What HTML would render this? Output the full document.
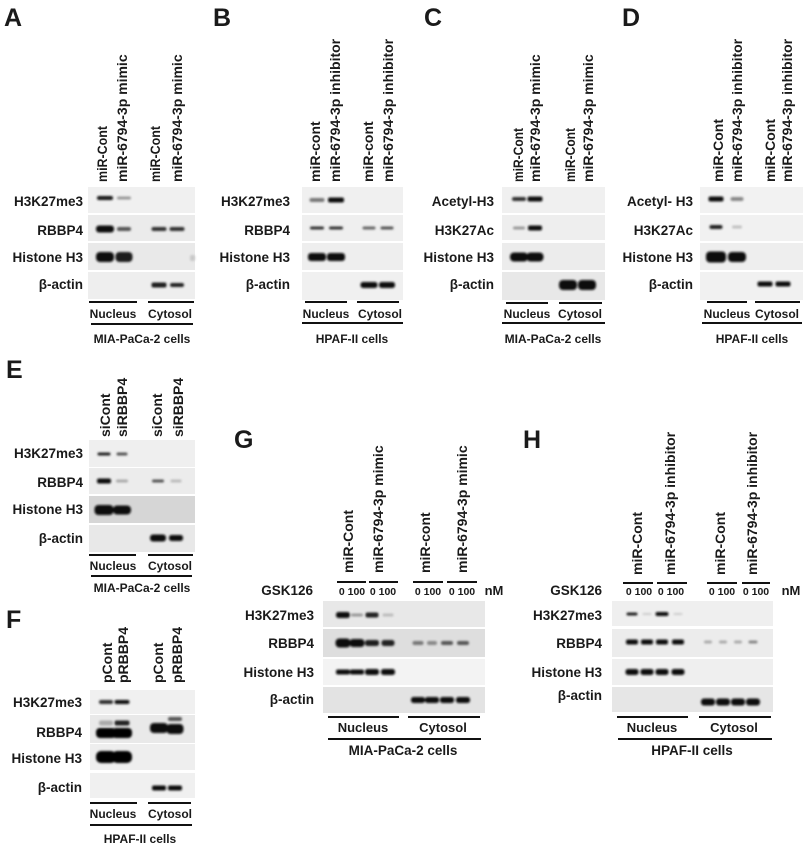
<!DOCTYPE html>
<html><head><meta charset="utf-8"><style>
html,body{margin:0;padding:0;background:#fff;}
svg{display:block;}
.t{font-family:"Liberation Sans",Arial,sans-serif;font-weight:bold;fill:#1a1a1a;}
.lt{font-size:25px;}
.rl{font-size:13.5px;text-anchor:end;}
.cl{font-size:14px;}
.sm{font-size:12px;text-anchor:middle;}
.md{font-size:13px;text-anchor:middle;}
.cg{font-size:13.5px;text-anchor:middle;}
.nm{font-size:10.5px;text-anchor:middle;}
</style></head><body>
<svg width="808" height="850" viewBox="0 0 808 850" xmlns="http://www.w3.org/2000/svg">
<defs>
<filter id="b" x="-50%" y="-100%" width="200%" height="300%"><feGaussianBlur stdDeviation="1.1"/></filter>
</defs>
<rect width="808" height="850" fill="#fff"/>

<!-- ===== Panel letters ===== -->
<text class="t lt" x="4" y="26">A</text>
<text class="t lt" x="213" y="26">B</text>
<text class="t lt" x="424" y="26">C</text>
<text class="t lt" x="622" y="26">D</text>
<text class="t lt" x="6" y="378">E</text>
<text class="t lt" x="6" y="628">F</text>
<text class="t lt" x="234" y="448">G</text>
<text class="t lt" x="523" y="448">H</text>

<!-- ===== Panel A ===== -->
<rect x="88" y="187" width="107" height="26" fill="#f0f0f0"/>
<rect x="88" y="215" width="107" height="26" fill="#ebebeb"/>
<rect x="88" y="243" width="107" height="27" fill="#e9e9e9"/>
<rect x="88" y="272" width="107" height="27" fill="#eeeeee"/>
<text class="t cl" transform="translate(107,182) rotate(-90)" textLength="56" lengthAdjust="spacingAndGlyphs">miR-Cont</text>
<text class="t cl" transform="translate(127,182) rotate(-90)">miR-6794-3p mimic</text>
<text class="t cl" transform="translate(160,182) rotate(-90)" textLength="56" lengthAdjust="spacingAndGlyphs">miR-Cont</text>
<text class="t cl" transform="translate(182,182) rotate(-90)">miR-6794-3p mimic</text>
<text class="t rl" x="83" y="206">H3K27me3</text>
<text class="t rl" x="83" y="235">RBBP4</text>
<text class="t rl" x="83" y="262">Histone H3</text>
<text class="t rl" x="83" y="289">β-actin</text>
<g filter="url(#b)">
<rect x="97" y="196" width="16" height="4" rx="2" fill="#151515"/>
<rect x="117" y="196.5" width="14" height="3" rx="1.5" fill="#9a9a9a"/>
<rect x="96" y="225.5" width="18" height="7" rx="3" fill="#111"/>
<rect x="117" y="227" width="14" height="4" rx="2" fill="#555"/>
<rect x="151.5" y="227" width="15" height="4" rx="2" fill="#333"/>
<rect x="169.5" y="227" width="15" height="4" rx="2" fill="#333"/>
<rect x="96" y="252" width="18" height="10" rx="4" fill="#111"/>
<rect x="115.5" y="252" width="17" height="10" rx="4" fill="#1a1a1a"/>
<rect x="190" y="255" width="5" height="6" rx="2" fill="#c8c8c8"/>
<rect x="151.5" y="282.5" width="15" height="5" rx="2" fill="#1a1a1a"/>
<rect x="170" y="283" width="14" height="4" rx="2" fill="#222"/>
</g>
<rect x="89" y="301" width="48" height="2" fill="#111"/>
<rect x="148" y="301" width="46" height="2" fill="#111"/>
<text class="t sm" x="113" y="318">Nucleus</text>
<text class="t sm" x="170" y="318">Cytosol</text>
<rect x="91" y="323" width="102" height="2" fill="#111"/>
<text class="t sm" x="142" y="343">MIA-PaCa-2 cells</text>

<!-- ===== Panel B ===== -->
<rect x="302" y="187" width="101" height="26" fill="#f0f0f0"/>
<rect x="302" y="215" width="101" height="26" fill="#efefef"/>
<rect x="302" y="243" width="101" height="27" fill="#eeeeee"/>
<rect x="302" y="272" width="101" height="28" fill="#f0f0f0"/>
<text class="t cl" transform="translate(320,182) rotate(-90)">miR-cont</text>
<text class="t cl" transform="translate(340,182) rotate(-90)">miR-6794-3p inhibitor</text>
<text class="t cl" transform="translate(373,182) rotate(-90)">miR-cont</text>
<text class="t cl" transform="translate(393,182) rotate(-90)">miR-6794-3p inhibitor</text>
<text class="t rl" x="290" y="206">H3K27me3</text>
<text class="t rl" x="290" y="235">RBBP4</text>
<text class="t rl" x="290" y="262">Histone H3</text>
<text class="t rl" x="290" y="289">β-actin</text>
<g filter="url(#b)">
<rect x="309.5" y="198" width="15" height="4" rx="2" fill="#777"/>
<rect x="328" y="197.5" width="16" height="5" rx="2" fill="#111"/>
<rect x="310" y="226.5" width="14" height="3" rx="1.5" fill="#333"/>
<rect x="329" y="226.5" width="14" height="3" rx="1.5" fill="#333"/>
<rect x="362.5" y="226.5" width="13" height="3" rx="1.5" fill="#666"/>
<rect x="380.5" y="226.5" width="13" height="3" rx="1.5" fill="#555"/>
<rect x="308" y="253" width="18" height="8" rx="3" fill="#111"/>
<rect x="327" y="253" width="18" height="8" rx="3" fill="#111"/>
<rect x="360.5" y="282" width="17" height="6" rx="2.5" fill="#111"/>
<rect x="379" y="282" width="16" height="6" rx="2.5" fill="#111"/>
</g>
<rect x="305" y="301" width="42" height="2" fill="#111"/>
<rect x="357" y="301" width="42" height="2" fill="#111"/>
<text class="t sm" x="326" y="318">Nucleus</text>
<text class="t sm" x="380" y="318">Cytosol</text>
<rect x="302" y="322" width="101" height="2" fill="#111"/>
<text class="t sm" x="352" y="343">HPAF-II cells</text>

<!-- ===== Panel C ===== -->
<rect x="502" y="187" width="103" height="26" fill="#f0f0f0"/>
<rect x="502" y="215" width="103" height="25" fill="#eeeeee"/>
<rect x="502" y="243" width="103" height="27" fill="#ececec"/>
<rect x="502" y="272" width="103" height="28" fill="#e8e8e8"/>
<text class="t cl" transform="translate(523,182) rotate(-90)" textLength="54" lengthAdjust="spacingAndGlyphs">miR-Cont</text>
<text class="t cl" transform="translate(540,182) rotate(-90)">miR-6794-3p mimic</text>
<text class="t cl" transform="translate(575,182) rotate(-90)" textLength="54" lengthAdjust="spacingAndGlyphs">miR-Cont</text>
<text class="t cl" transform="translate(593,182) rotate(-90)">miR-6794-3p mimic</text>
<text class="t rl" x="494" y="206">Acetyl-H3</text>
<text class="t rl" x="494" y="235">H3K27Ac</text>
<text class="t rl" x="494" y="262">Histone H3</text>
<text class="t rl" x="494" y="289">β-actin</text>
<g filter="url(#b)">
<rect x="512" y="197" width="14" height="4" rx="2" fill="#333"/>
<rect x="527.5" y="196.5" width="15" height="5" rx="2" fill="#111"/>
<rect x="513" y="226.5" width="12" height="3" rx="1.5" fill="#999"/>
<rect x="528" y="225.5" width="14" height="5" rx="2" fill="#111"/>
<rect x="510" y="252.5" width="18" height="9" rx="4" fill="#111"/>
<rect x="526.5" y="252.5" width="17" height="9" rx="4" fill="#111"/>
<rect x="559" y="280" width="18" height="10" rx="4" fill="#0a0a0a"/>
<rect x="578" y="280" width="18" height="10" rx="4" fill="#0a0a0a"/>
</g>
<rect x="506" y="302" width="42" height="2" fill="#111"/>
<rect x="559" y="302" width="43" height="2" fill="#111"/>
<text class="t sm" x="527" y="318">Nucleus</text>
<text class="t sm" x="580" y="318">Cytosol</text>
<rect x="502" y="322" width="103" height="2" fill="#111"/>
<text class="t sm" x="553" y="343">MIA-PaCa-2 cells</text>

<!-- ===== Panel D ===== -->
<rect x="700" y="187" width="103" height="26" fill="#f2f2f2"/>
<rect x="700" y="215" width="103" height="26" fill="#f1f1f1"/>
<rect x="700" y="243" width="103" height="27" fill="#eeeeee"/>
<rect x="700" y="272" width="103" height="28" fill="#f1f1f1"/>
<text class="t cl" transform="translate(723,182) rotate(-90)">miR-Cont</text>
<text class="t cl" transform="translate(742,182) rotate(-90)">miR-6794-3p inhibitor</text>
<text class="t cl" transform="translate(775,182) rotate(-90)">miR-Cont</text>
<text class="t cl" transform="translate(792,182) rotate(-90)">miR-6794-3p inhibitor</text>
<text class="t rl" x="693" y="206">Acetyl- H3</text>
<text class="t rl" x="693" y="235">H3K27Ac</text>
<text class="t rl" x="693" y="262">Histone H3</text>
<text class="t rl" x="693" y="289">β-actin</text>
<g filter="url(#b)">
<rect x="708.5" y="196.5" width="15" height="5" rx="2" fill="#111"/>
<rect x="730.5" y="197" width="13" height="4" rx="2" fill="#888"/>
<rect x="709.5" y="225" width="13" height="4" rx="2" fill="#222"/>
<rect x="732" y="225.5" width="10" height="3" rx="1.5" fill="#c0c0c0"/>
<rect x="706" y="251.5" width="20" height="11" rx="4" fill="#0a0a0a"/>
<rect x="728" y="252" width="18" height="10" rx="4" fill="#111"/>
<rect x="757.5" y="281.5" width="15" height="5" rx="2" fill="#111"/>
<rect x="775.5" y="281.5" width="15" height="5" rx="2" fill="#111"/>
</g>
<rect x="707" y="301" width="40" height="2" fill="#111"/>
<rect x="755" y="301" width="45" height="2" fill="#111"/>
<text class="t sm" x="727" y="318">Nucleus</text>
<text class="t sm" x="777" y="318">Cytosol</text>
<rect x="702" y="322" width="100" height="2" fill="#111"/>
<text class="t sm" x="752" y="343">HPAF-II cells</text>

<!-- ===== Panel E ===== -->
<rect x="89" y="440" width="106" height="27" fill="#efefef"/>
<rect x="89" y="468" width="106" height="26" fill="#ececec"/>
<rect x="89" y="496" width="106" height="27" fill="#d6d6d6"/>
<rect x="89" y="525" width="106" height="27" fill="#e8e8e8"/>
<text class="t cl" transform="translate(110,437) rotate(-90)">siCont</text>
<text class="t cl" transform="translate(127,437) rotate(-90)">siRBBP4</text>
<text class="t cl" transform="translate(162,437) rotate(-90)">siCont</text>
<text class="t cl" transform="translate(183,437) rotate(-90)">siRBBP4</text>
<text class="t rl" x="83" y="458">H3K27me3</text>
<text class="t rl" x="83" y="487">RBBP4</text>
<text class="t rl" x="83" y="514">Histone H3</text>
<text class="t rl" x="83" y="543">β-actin</text>
<g filter="url(#b)">
<rect x="97.5" y="452.5" width="13" height="3" rx="1.5" fill="#222"/>
<rect x="116.5" y="452.5" width="11" height="3" rx="1.5" fill="#555"/>
<rect x="97" y="478.5" width="14" height="5" rx="2" fill="#111"/>
<rect x="116" y="479.5" width="12" height="3" rx="1.5" fill="#aaa"/>
<rect x="152" y="479.5" width="12" height="3" rx="1.5" fill="#555"/>
<rect x="170.5" y="479.5" width="11" height="3" rx="1.5" fill="#bbb"/>
<rect x="94.5" y="505" width="19" height="10" rx="4" fill="#0a0a0a"/>
<rect x="113" y="505.5" width="18" height="9" rx="4" fill="#111"/>
<rect x="150" y="534.5" width="16" height="7" rx="3" fill="#111"/>
<rect x="169" y="535" width="14" height="6" rx="2.5" fill="#111"/>
</g>
<rect x="89" y="554" width="47" height="2" fill="#111"/>
<rect x="148" y="554" width="45" height="2" fill="#111"/>
<text class="t sm" x="113" y="570">Nucleus</text>
<text class="t sm" x="170" y="570">Cytosol</text>
<rect x="91" y="575" width="101" height="2" fill="#111"/>
<text class="t sm" x="142" y="592">MIA-PaCa-2 cells</text>

<!-- ===== Panel F ===== -->
<rect x="90" y="690" width="105" height="24" fill="#f0f0f0"/>
<rect x="90" y="715" width="105" height="28" fill="#e9e9e9"/>
<rect x="90" y="744" width="105" height="26" fill="#eeeeee"/>
<rect x="90" y="773" width="105" height="25" fill="#f0f0f0"/>
<text class="t cl" transform="translate(112,683) rotate(-90)">pCont</text>
<text class="t cl" transform="translate(128,683) rotate(-90)">pRBBP4</text>
<text class="t cl" transform="translate(163,683) rotate(-90)">pCont</text>
<text class="t cl" transform="translate(182,683) rotate(-90)">pRBBP4</text>
<text class="t rl" x="82" y="707">H3K27me3</text>
<text class="t rl" x="82" y="737">RBBP4</text>
<text class="t rl" x="82" y="763">Histone H3</text>
<text class="t rl" x="82" y="792">β-actin</text>
<g filter="url(#b)">
<rect x="99" y="700" width="14" height="4" rx="2" fill="#333"/>
<rect x="114.5" y="700" width="15" height="4" rx="2" fill="#111"/>
<rect x="99" y="720.5" width="14" height="5" rx="2" fill="#aaa"/>
<rect x="114.5" y="720.5" width="15" height="5" rx="2" fill="#222"/>
<rect x="168" y="717" width="14" height="4" rx="2" fill="#555"/>
<rect x="96" y="728" width="20" height="10" rx="4" fill="#050505"/>
<rect x="112" y="728" width="20" height="10" rx="4" fill="#050505"/>
<rect x="150" y="723" width="18" height="10" rx="4" fill="#0a0a0a"/>
<rect x="166.5" y="724" width="17" height="10" rx="4" fill="#0a0a0a"/>
<rect x="96" y="751" width="20" height="12" rx="5" fill="#050505"/>
<rect x="112" y="751" width="20" height="12" rx="5" fill="#050505"/>
<rect x="152" y="785.5" width="14" height="5" rx="2" fill="#111"/>
<rect x="168" y="785.5" width="14" height="5" rx="2" fill="#111"/>
</g>
<rect x="90" y="802" width="47" height="2" fill="#111"/>
<rect x="148" y="802" width="43" height="2" fill="#111"/>
<text class="t sm" x="113" y="818">Nucleus</text>
<text class="t sm" x="170" y="818">Cytosol</text>
<rect x="90" y="824" width="102" height="2" fill="#111"/>
<text class="t sm" x="140" y="843">HPAF-II cells</text>

<!-- ===== Panel G ===== -->
<rect x="323" y="601" width="162" height="26" fill="#e8e8e8"/>
<rect x="323" y="629" width="162" height="28" fill="#dedede"/>
<rect x="323" y="659" width="162" height="26" fill="#f3f3f3"/>
<rect x="323" y="687" width="162" height="26" fill="#e3e3e3"/>
<text class="t cl" transform="translate(353,573) rotate(-90)">miR-Cont</text>
<text class="t cl" transform="translate(383,573) rotate(-90)">miR-6794-3p mimic</text>
<text class="t cl" transform="translate(430,573) rotate(-90)">miR-cont</text>
<text class="t cl" transform="translate(467,573) rotate(-90)">miR-6794-3p mimic</text>
<rect x="337" y="581" width="29" height="2" fill="#111"/>
<rect x="369" y="581" width="29" height="2" fill="#111"/>
<rect x="413" y="581" width="30" height="2" fill="#111"/>
<rect x="447" y="581" width="30" height="2" fill="#111"/>
<text class="t rl" x="313" y="595">GSK126</text>
<text class="t nm" x="352" y="595">0 100</text>
<text class="t nm" x="383" y="595">0 100</text>
<text class="t nm" x="428" y="595">0 100</text>
<text class="t nm" x="462" y="595">0 100</text>
<text class="t md" x="494" y="595">nM</text>
<text class="t rl" x="314" y="620">H3K27me3</text>
<text class="t rl" x="314" y="648">RBBP4</text>
<text class="t rl" x="314" y="677">Histone H3</text>
<text class="t rl" x="314" y="704">β-actin</text>
<g filter="url(#b)">
<rect x="336" y="612" width="14" height="6" rx="2.5" fill="#111"/>
<rect x="351" y="613.5" width="12" height="3" rx="1.5" fill="#999"/>
<rect x="365.5" y="612.5" width="13" height="5" rx="2" fill="#222"/>
<rect x="382.5" y="613.5" width="11" height="3" rx="1.5" fill="#bbb"/>
<rect x="335.5" y="638.5" width="15" height="9" rx="4" fill="#0a0a0a"/>
<rect x="349.5" y="639" width="15" height="8" rx="3.5" fill="#111"/>
<rect x="365" y="640" width="14" height="6" rx="2.5" fill="#1a1a1a"/>
<rect x="381.5" y="640" width="13" height="6" rx="2.5" fill="#222"/>
<rect x="412.5" y="641" width="11" height="4" rx="2" fill="#777"/>
<rect x="427" y="641" width="10" height="4" rx="2" fill="#888"/>
<rect x="441" y="641" width="12" height="4" rx="2" fill="#555"/>
<rect x="457" y="641" width="12" height="4" rx="2" fill="#555"/>
<rect x="336" y="669.5" width="14" height="5" rx="2" fill="#111"/>
<rect x="350" y="669.5" width="14" height="5" rx="2" fill="#111"/>
<rect x="365" y="669" width="14" height="6" rx="2.5" fill="#111"/>
<rect x="381" y="669" width="14" height="6" rx="2.5" fill="#111"/>
<rect x="411" y="697" width="14" height="6" rx="2.5" fill="#111"/>
<rect x="425" y="697" width="14" height="6" rx="2.5" fill="#111"/>
<rect x="440" y="697" width="14" height="6" rx="2.5" fill="#111"/>
<rect x="456" y="697" width="14" height="6" rx="2.5" fill="#111"/>
</g>
<rect x="328" y="716" width="71" height="2" fill="#111"/>
<rect x="408" y="716" width="72" height="2" fill="#111"/>
<text class="t md" x="363" y="732">Nucleus</text>
<text class="t md" x="443" y="732">Cytosol</text>
<rect x="328" y="738" width="153" height="2" fill="#111"/>
<text class="t cg" x="403" y="755">MIA-PaCa-2 cells</text>

<!-- ===== Panel H ===== -->
<rect x="612" y="601" width="161" height="25" fill="#efefef"/>
<rect x="612" y="629" width="161" height="28" fill="#ececec"/>
<rect x="612" y="659" width="161" height="26" fill="#efefef"/>
<rect x="612" y="687" width="161" height="25" fill="#e6e6e6"/>
<text class="t cl" transform="translate(642,575) rotate(-90)">miR-Cont</text>
<text class="t cl" transform="translate(675,575) rotate(-90)">miR-6794-3p inhibitor</text>
<text class="t cl" transform="translate(725,575) rotate(-90)">miR-Cont</text>
<text class="t cl" transform="translate(757,575) rotate(-90)">miR-6794-3p inhibitor</text>
<rect x="623" y="582" width="30" height="2" fill="#111"/>
<rect x="657" y="582" width="30" height="2" fill="#111"/>
<rect x="707" y="582" width="30" height="2" fill="#111"/>
<rect x="742" y="582" width="28" height="2" fill="#111"/>
<text class="t rl" x="602" y="595">GSK126</text>
<text class="t nm" x="639" y="595">0 100</text>
<text class="t nm" x="671" y="595">0 100</text>
<text class="t nm" x="722" y="595">0 100</text>
<text class="t nm" x="756" y="595">0 100</text>
<text class="t md" x="791" y="595">nM</text>
<text class="t rl" x="602" y="620">H3K27me3</text>
<text class="t rl" x="602" y="648">RBBP4</text>
<text class="t rl" x="602" y="677">Histone H3</text>
<text class="t rl" x="602" y="700">β-actin</text>
<g filter="url(#b)">
<rect x="626.5" y="612.5" width="11" height="3" rx="1.5" fill="#222"/>
<rect x="642.5" y="613" width="9" height="2" rx="1" fill="#ccc"/>
<rect x="655.5" y="612" width="13" height="4" rx="2" fill="#111"/>
<rect x="673.5" y="613" width="9" height="2" rx="1" fill="#ccc"/>
<rect x="626" y="639.5" width="12" height="5" rx="2" fill="#111"/>
<rect x="641" y="639.5" width="12" height="5" rx="2" fill="#111"/>
<rect x="656" y="639.5" width="12" height="5" rx="2" fill="#111"/>
<rect x="672" y="639.5" width="12" height="5" rx="2" fill="#111"/>
<rect x="704" y="640.5" width="8" height="3" rx="1.5" fill="#aaa"/>
<rect x="719" y="640.5" width="8" height="3" rx="1.5" fill="#aaa"/>
<rect x="734" y="640.5" width="8" height="3" rx="1.5" fill="#aaa"/>
<rect x="748.5" y="640.5" width="9" height="3" rx="1.5" fill="#888"/>
<rect x="625.5" y="669" width="13" height="6" rx="2.5" fill="#111"/>
<rect x="640.5" y="669" width="13" height="6" rx="2.5" fill="#111"/>
<rect x="655.5" y="669" width="13" height="6" rx="2.5" fill="#111"/>
<rect x="671.5" y="669" width="13" height="6" rx="2.5" fill="#111"/>
<rect x="701" y="698.5" width="14" height="7" rx="3" fill="#0a0a0a"/>
<rect x="716" y="698.5" width="14" height="7" rx="3" fill="#0a0a0a"/>
<rect x="731" y="698.5" width="14" height="7" rx="3" fill="#0a0a0a"/>
<rect x="746" y="698.5" width="14" height="7" rx="3" fill="#0a0a0a"/>
</g>
<rect x="617" y="716" width="71" height="2" fill="#111"/>
<rect x="699" y="716" width="72" height="2" fill="#111"/>
<text class="t md" x="652" y="732">Nucleus</text>
<text class="t md" x="734" y="732">Cytosol</text>
<rect x="618" y="738" width="154" height="2" fill="#111"/>
<text class="t cg" x="692" y="755">HPAF-II cells</text>
</svg>
</body></html>
